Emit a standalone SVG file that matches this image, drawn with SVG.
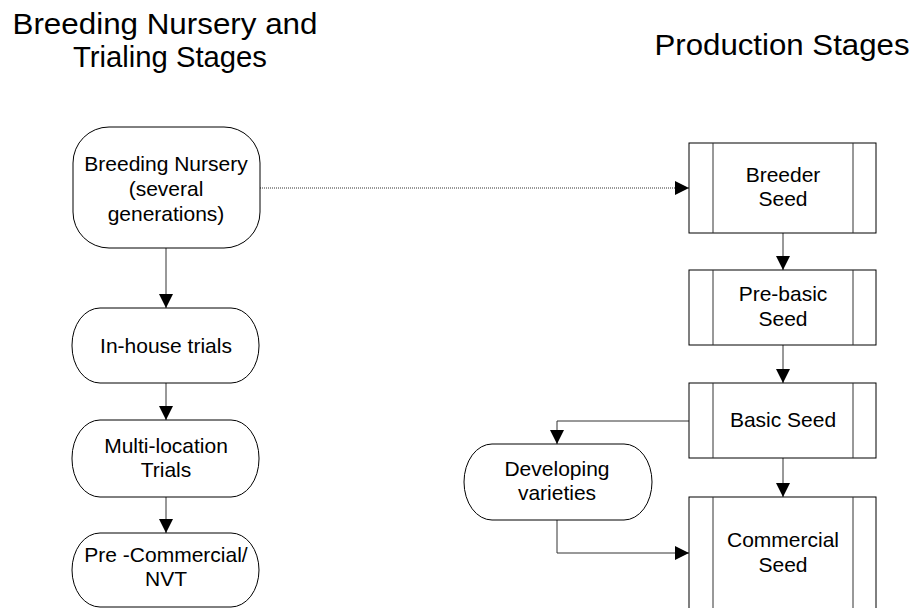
<svg xmlns="http://www.w3.org/2000/svg" width="916" height="608" viewBox="0 0 916 608">
<defs>
<style>
.node{fill:#fff;stroke:#000;stroke-width:1}
.t{font-family:"Liberation Sans",Arial,sans-serif;font-size:21px;fill:#000;text-anchor:middle}
.title{font-family:"Liberation Sans",Arial,sans-serif;font-size:29px;fill:#000;text-anchor:middle}
.c{fill:none;stroke:#333;stroke-width:1}
.dot{fill:none;stroke:#333;stroke-width:1;stroke-dasharray:1 1}
</style>
<marker id="ah" viewBox="0 0 14 14" refX="14" refY="7" markerWidth="14" markerHeight="14" markerUnits="userSpaceOnUse" orient="auto">
<path d="M0,0 L14,7 L0,14 Z" fill="#000"/>
</marker>
</defs>
<rect width="916" height="608" fill="#fff"/>
<g id="titles">
<text class="title" x="165" y="34" textLength="305" lengthAdjust="spacingAndGlyphs">Breeding Nursery and</text>
<text class="title" x="170" y="67" textLength="194" lengthAdjust="spacingAndGlyphs">Trialing Stages</text>
<text class="title" x="782" y="55" textLength="255" lengthAdjust="spacingAndGlyphs">Production Stages</text>
</g>
<g id="connectors">
<path class="c" d="M166,248 V308" marker-end="url(#ah)"/>
<path class="c" d="M166,383 V420" marker-end="url(#ah)"/>
<path class="c" d="M166,497 V533" marker-end="url(#ah)"/>
<path class="dot" d="M260,188 H689" marker-end="url(#ah)"/>
<path class="c" d="M783,233 V270" marker-end="url(#ah)"/>
<path class="c" d="M783,345 V383" marker-end="url(#ah)"/>
<path class="c" d="M783,458 V497" marker-end="url(#ah)"/>
<path class="c" d="M689,421 H557 V444" marker-end="url(#ah)"/>
<path class="c" d="M557,520 V553 H689" marker-end="url(#ah)"/>
</g>
<g id="breeding-nursery">
<rect class="node" x="73" y="127" width="187" height="121" rx="36" ry="36"/>
<text class="t" x="166" y="171">Breeding Nursery</text>
<text class="t" x="166" y="196">(several</text>
<text class="t" x="166" y="221">generations)</text>
</g>
<g id="in-house-trials">
<rect class="node" x="72" y="308" width="187" height="75" rx="28" ry="37"/>
<text class="t" x="166" y="353">In-house trials</text>
</g>
<g id="multi-location-trials">
<rect class="node" x="72" y="420" width="187" height="77" rx="28" ry="38"/>
<text class="t" x="166" y="453">Multi-location</text>
<text class="t" x="166" y="477">Trials</text>
</g>
<g id="pre-commercial">
<rect class="node" x="72" y="533" width="187" height="74" rx="28" ry="37"/>
<text class="t" x="166" y="562">Pre -Commercial/</text>
<text class="t" x="166" y="586">NVT</text>
</g>
<g id="breeder-seed">
<rect class="node" x="689" y="143" width="187" height="90"/>
<path class="c" d="M713,143 V233 M853,143 V233"/>
<text class="t" x="783" y="182">Breeder</text>
<text class="t" x="783" y="206">Seed</text>
</g>
<g id="pre-basic-seed">
<rect class="node" x="689" y="270" width="187" height="75"/>
<path class="c" d="M713,270 V345 M853,270 V345"/>
<text class="t" x="783" y="301">Pre-basic</text>
<text class="t" x="783" y="326">Seed</text>
</g>
<g id="basic-seed">
<rect class="node" x="689" y="383" width="187" height="75"/>
<path class="c" d="M713,383 V458 M853,383 V458"/>
<text class="t" x="783" y="427">Basic Seed</text>
</g>
<g id="developing-varieties">
<rect class="node" x="464" y="444" width="188" height="76" rx="28" ry="38"/>
<text class="t" x="557" y="476">Developing</text>
<text class="t" x="557" y="500">varieties</text>
</g>
<g id="commercial-seed">
<rect class="node" x="689" y="497" width="187" height="112"/>
<path class="c" d="M713,497 V609 M853,497 V609"/>
<text class="t" x="783" y="547">Commercial</text>
<text class="t" x="783" y="572">Seed</text>
</g>
</svg>
